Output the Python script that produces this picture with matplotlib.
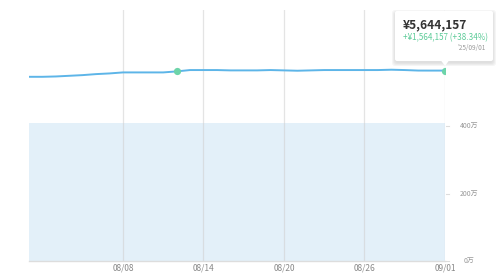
import numpy as np
import matplotlib.pyplot as plt
from matplotlib.patches import FancyBboxPatch, Polygon
import datetime as dt

plt.rcParams['font.family'] = ['Noto Sans CJK JP', 'DejaVu Sans']

# 資産評価額 (万円) 08/01 - 09/01
valores = [546, 546, 547, 549, 551, 554, 556, 559, 559, 559, 559, 562, 566, 566,
           566, 565, 565, 565, 566, 565, 564, 565, 566, 566, 566, 566, 566, 567,
           566, 564.5, 564.4, 564.4157]
principal = 408  # 元本 (万円)
marcador_dia = 11  # índice do ponto verde
total_txt = '¥5,644,157'
lucro_txt = '+¥1,564,157 (+38.34%)'
data_txt = "'25/09/01"
ytick_vals = [0, 200, 400, 600]
xtick_labels = ['08/08', '08/14', '08/20', '08/26', '09/01']

inicio = dt.date(2025, 8, 1)
dias = np.arange(len(valores))
xtick_pos = [(dt.date(2025, int(s[:2]), int(s[3:])) - inicio).days for s in xtick_labels]

fig = plt.figure(figsize=(5, 2.74), dpi=100)
ax = fig.add_axes([0.058, 0.0474, 0.832, 0.9161])
ax.set_xlim(0, len(valores) - 1)
ax.set_ylim(0, 744)

# área do principal
ax.fill_between(dias, 0, principal, color='#e3f0f9', lw=0, zorder=1)

# linhas verticais de grade
for p in xtick_pos:
    ax.axvline(p, color='#cfcfcf', alpha=0.55, lw=0.9, zorder=2)

# linha de avaliação
ax.plot(dias, valores, color='#5db5e8', lw=1.4, zorder=3, solid_capstyle='round')
ax.plot([dias[marcador_dia]], [valores[marcador_dia]], 'o', color='#6dd4a9', ms=5.2, mec='none', zorder=4)
ax.plot([dias[-1]], [valores[-1]], 'o', color='#6dd4a9', ms=5.2, mec='none', zorder=4)

for s in ['top', 'left', 'right']:
    ax.spines[s].set_visible(False)
ax.spines['bottom'].set_color('#dddddd')
ax.spines['bottom'].set_linewidth(1.0)
ax.set_facecolor('none')

ax.set_xticks(xtick_pos)
ax.set_xticklabels(xtick_labels)
ax.tick_params(axis='x', length=0, pad=2, labelsize=6, labelcolor='#888888')
ax.set_yticks([])

# eixo da direita
for v in ytick_vals:
    ax.text(1.057, v, f'{v}万', transform=ax.get_yaxis_transform(), ha='center', va='center',
            fontsize=5, color='#999999', zorder=1)
    ax.plot([1.002, 1.01], [v, v], transform=ax.get_yaxis_transform(), color='#dddddd',
            lw=0.8, clip_on=False)

# tooltip
fig.canvas.draw()
px, py = ax.transData.transform((dias[-1], valores[-1]))
W, H = fig.bbox.width, fig.bbox.height
bx0, bx1 = 395, 493
by0, by1 = H - 61, H - 11
for i, a in enumerate([0.04, 0.035, 0.03, 0.02]):
    d = 4 - i
    sh = FancyBboxPatch((bx0 - d + 1, by0 - d - 1), bx1 - bx0 + 2 * d - 2, by1 - by0 + 2 * d - 2,
                        boxstyle='round,pad=0,rounding_size=3', transform=None,
                        fc='black', ec='none', alpha=a, zorder=9)
    fig.patches.append(sh)
caixa = FancyBboxPatch((bx0, by0), bx1 - bx0, by1 - by0, boxstyle='round,pad=0,rounding_size=2',
                       transform=None, fc='white', ec='none', zorder=10)
fig.patches.append(caixa)
tri = Polygon([[px - 4, by0 + 0.5], [px + 4, by0 + 0.5], [px, by0 - 5]], closed=True,
              transform=None, fc='white', ec='none', zorder=10)
fig.patches.append(tri)

fig.text((bx0 + 8) / W, (H - 25) / H, total_txt, fontsize=8.6, fontweight='bold',
         color='#333333', ha='left', va='center', zorder=11)
fig.text((bx0 + 8) / W, (H - 38) / H, lucro_txt, fontsize=5.8, color='#5ccb98',
         ha='left', va='center', zorder=11)
fig.text((bx1 - 7) / W, (H - 48) / H, data_txt, fontsize=4.6, color='#999999',
         ha='right', va='center', zorder=11)

fig.savefig('out.png', dpi=100, facecolor='white')
